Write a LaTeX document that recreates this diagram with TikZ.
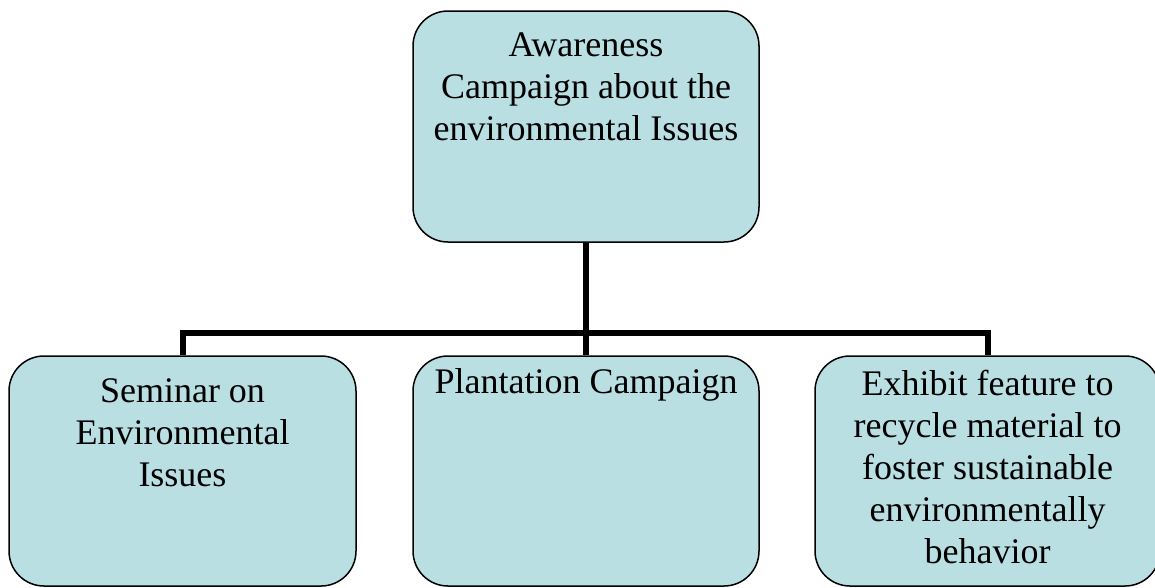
\documentclass[tikz,border=0pt]{standalone}
\usepackage{fontspec}
\setmainfont{Liberation Serif}
\usepackage{tikz}
\usetikzlibrary{calc}
\usetikzlibrary{positioning}

\definecolor{boxfill}{RGB}{185,223,227}

\tikzset{
  chartbox/.style={draw=black, line width=1.5pt, fill=boxfill,
    rounded corners=35pt, inner sep=0pt},
  boxtext/.style={anchor=north, inner sep=0pt, align=center,
    font=\fontsize{36}{42}\selectfont},
  link/.style={line width=6pt, draw=black}
}

\begin{document}
\begin{tikzpicture}[x=1pt, y=-1pt]
		\useasboundingbox (0,0) rectangle (1155,587);
		\clip (0,0) rectangle (1155,587);

		\node[chartbox, minimum width=346pt, minimum height=231pt] (aware) at (586,126.5) {};
		\node[chartbox, minimum width=347pt, minimum height=230pt] (seminar) at (182.5,471) {};
		\node[chartbox, minimum width=346pt, minimum height=230pt] (plant) at (586,471) {};
		\node[chartbox, minimum width=345pt, minimum height=230pt] (exhibit) at (987.5,471) {};

		\coordinate (hub) at (586,333);

		\draw[link] (aware.south) -- (plant.north);
		\draw[link] (seminar.north) |- (hub) -| (exhibit.north);

		\node[boxtext] (awaretext) at ([yshift=-22pt]aware.north) {Awareness\\Campaign about the\\environmental Issues};
		\node[boxtext] (seminartext) at ([yshift=-23pt]seminar.north) {Seminar on\\Environmental\\Issues};
		\node[boxtext] (planttext) at ([yshift=-13pt]plant.north) {Plantation Campaign};
		\node[boxtext] (exhibittext) at ([yshift=-15pt]exhibit.north) {Exhibit feature to\\recycle material to\\foster sustainable\\environmentally\\behavior};
    \end{tikzpicture}
\end{document}
